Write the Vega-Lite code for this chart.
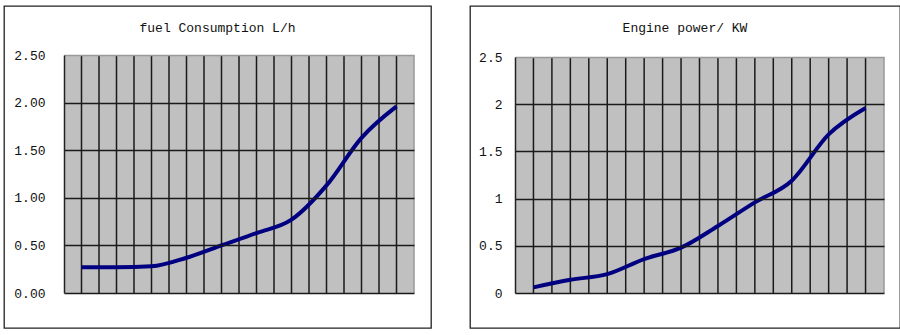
{
  "$schema": "https://vega.github.io/schema/vega-lite/v6.json",
  "padding": {"left": 3, "top": 5, "right": 0, "bottom": 0},
  "autosize": {"type": "pad"},
  "spacing": 37,
  "config": {
    "view": {"stroke": "#222222", "strokeWidth": 1.3},
    "title": {"font": "Liberation Mono", "fontSize": 13, "fontWeight": "normal", "color": "#111111"}
  },
  "hconcat": [
    {
      "width": 427,
      "height": 322,
      "title": {"text": "fuel Consumption L/h", "offset": -35, "baseline": "middle", "anchor": "middle", "frame": "group"},
      "data": {"values": [
        {"rpm": 2000, "fuel": 0.27},
        {"rpm": 2500, "fuel": 0.27},
        {"rpm": 3000, "fuel": 0.28},
        {"rpm": 3500, "fuel": 0.37},
        {"rpm": 4000, "fuel": 0.50},
        {"rpm": 4500, "fuel": 0.63},
        {"rpm": 5000, "fuel": 0.77},
        {"rpm": 5500, "fuel": 1.13},
        {"rpm": 6000, "fuel": 1.63},
        {"rpm": 6400, "fuel": 1.96}
      ]},
      "layer": [
        {
          "mark": {"type": "bar", "color": "#c0c0c0"},
          "encoding": {
            "x": {"field": "rpm", "type": "ordinal",
              "scale": {"type": "band", "range": [60, 410], "paddingInner": 0, "paddingOuter": 0},
              "axis": {"orient": "bottom", "offset": -35, "grid": false,
                "domain": true, "domainColor": "#222222", "domainWidth": 1.5, "ticks": false, "labelAngle": 0,
                "labelFont": "Liberation Sans", "labelFontSize": 13, "labelColor": "#111111", "labelPadding": 9, "title": null, "zindex": 1}},
            "y": {"datum": 2.5, "type": "quantitative",
              "scale": {"domain": [0, 2.5], "range": [287, 49], "nice": false, "zero": false},
              "axis": {"orient": "left", "offset": -60, "values": [0, 0.5, 1, 1.5, 2, 2.5], "format": ".2f", "grid": true,
                "gridColor": {"condition": {"test": "datum.value == 2.5", "value": "#999999"}, "value": "#1a1a1a"}, "gridWidth": 1.5,
                "domainColor": "#222222", "domainWidth": 1.5, "ticks": false,
                "labelFont": "Liberation Mono", "labelFontSize": 13, "labelColor": "#111111", "labelPadding": 19, "title": null, "zindex": 1}},
            "y2": {"datum": 0}
          }
        },
        {
          "mark": {"type": "rule", "color": "#1a1a1a", "strokeWidth": 1.5},
          "encoding": {
            "x": {"field": "rpm", "type": "ordinal", "bandPosition": 0.5, "axis": null},
            "y": {"datum": 0, "type": "quantitative"},
            "y2": {"datum": 2.5}
          }
        },
        {
          "mark": {"type": "rule", "strokeWidth": 1.5},
          "encoding": {
            "x": {"field": "rpm", "type": "ordinal", "bandPosition": 1, "axis": null},
            "y": {"datum": 0, "type": "quantitative"},
            "y2": {"datum": 2.5},
            "color": {"condition": {"test": "datum.rpm == 6400", "value": "#999999"}, "value": "#1a1a1a"}
          }
        },
        {
          "mark": {"type": "line", "color": "#000080", "strokeWidth": 4, "interpolate": "monotone"},
          "encoding": {
            "x": {"field": "rpm", "type": "ordinal", "axis": null},
            "y": {"field": "fuel", "type": "quantitative"}
          }
        }
      ]
    },
    {
      "width": 430,
      "height": 322,
      "title": {"text": "Engine power/ KW", "offset": -35, "baseline": "middle", "anchor": "middle", "frame": "group"},
      "data": {"values": [
        {"rpm": 2000, "power": 0.06},
        {"rpm": 2500, "power": 0.14},
        {"rpm": 3000, "power": 0.20},
        {"rpm": 3500, "power": 0.36},
        {"rpm": 4000, "power": 0.48},
        {"rpm": 4500, "power": 0.71},
        {"rpm": 5000, "power": 0.96},
        {"rpm": 5500, "power": 1.19},
        {"rpm": 6000, "power": 1.68},
        {"rpm": 6400, "power": 1.96}
      ]},
      "layer": [
        {
          "mark": {"type": "bar", "color": "#c0c0c0"},
          "encoding": {
            "x": {"field": "rpm", "type": "ordinal",
              "scale": {"type": "band", "range": [45, 414], "paddingInner": 0, "paddingOuter": 0},
              "axis": {"orient": "bottom", "offset": -35, "grid": false,
                "domain": true, "domainColor": "#222222", "domainWidth": 1.5, "ticks": false, "labelAngle": 0,
                "labelFont": "Liberation Sans", "labelFontSize": 13, "labelColor": "#111111", "labelPadding": 9, "title": null, "zindex": 1}},
            "y": {"datum": 2.5, "type": "quantitative",
              "scale": {"domain": [0, 2.5], "range": [287, 51], "nice": false, "zero": false},
              "axis": {"orient": "left", "offset": -45, "values": [0, 0.5, 1, 1.5, 2, 2.5], "format": "~g", "grid": true,
                "gridColor": {"condition": {"test": "datum.value == 2.5", "value": "#999999"}, "value": "#1a1a1a"}, "gridWidth": 1.5,
                "domainColor": "#222222", "domainWidth": 1.5, "ticks": false,
                "labelFont": "Liberation Mono", "labelFontSize": 13, "labelColor": "#111111", "labelPadding": 13, "title": null, "zindex": 1}},
            "y2": {"datum": 0}
          }
        },
        {
          "mark": {"type": "rule", "color": "#1a1a1a", "strokeWidth": 1.5},
          "encoding": {
            "x": {"field": "rpm", "type": "ordinal", "bandPosition": 0.5, "axis": null},
            "y": {"datum": 0, "type": "quantitative"},
            "y2": {"datum": 2.5}
          }
        },
        {
          "mark": {"type": "rule", "strokeWidth": 1.5},
          "encoding": {
            "x": {"field": "rpm", "type": "ordinal", "bandPosition": 1, "axis": null},
            "y": {"datum": 0, "type": "quantitative"},
            "y2": {"datum": 2.5},
            "color": {"condition": {"test": "datum.rpm == 6400", "value": "#999999"}, "value": "#1a1a1a"}
          }
        },
        {
          "mark": {"type": "line", "color": "#000080", "strokeWidth": 4, "interpolate": "monotone"},
          "encoding": {
            "x": {"field": "rpm", "type": "ordinal", "axis": null},
            "y": {"field": "power", "type": "quantitative"}
          }
        }
      ]
    }
  ]
}
